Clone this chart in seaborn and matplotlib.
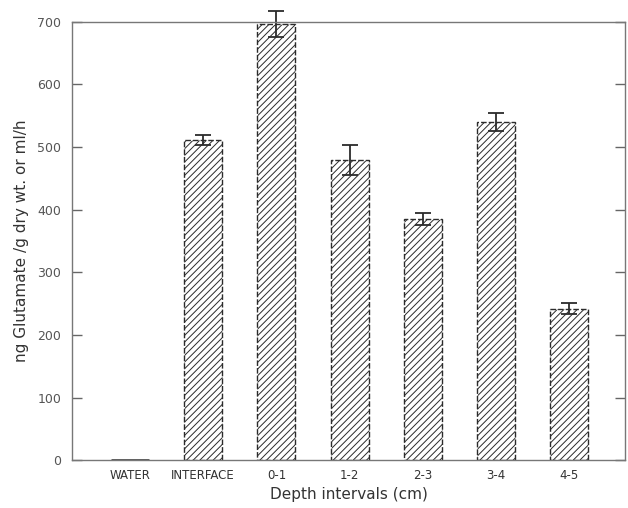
import matplotlib
matplotlib.use("Agg")
import matplotlib.pyplot as plt
import seaborn as sns
import pandas as pd

categories = ["WATER", "INTERFACE", "0-1", "1-2", "2-3", "3-4", "4-5"]
rates = [1, 512, 697, 480, 385, 540, 242]
errors = [0, 8, 21, 24, 9, 15, 9]
y_ticks = [0, 100, 200, 300, 400, 500, 600, 700]

ink = "#2b2b2b"

sns.set_style("white")
plt.rcParams["font.family"] = ["DejaVu Sans"]
plt.rcParams["hatch.color"] = "#555555"
plt.rcParams["hatch.linewidth"] = 0.7

df = pd.DataFrame({"depth": categories, "rate": rates})

fig = plt.figure(figsize=(6.28, 5.08), dpi=100)
ax = fig.add_axes([0.115, 0.094, 0.88, 0.863])

sns.barplot(data=df, x="depth", y="rate", order=categories, color="white",
            edgecolor=ink, linewidth=1.0, width=0.52, errorbar=None, ax=ax)
for p in ax.patches:
    p.set_hatch("/////")
    p.set_linestyle((0, (4, 1.5)))
# water bar is just a flat line at zero
ax.patches[0].set_linestyle("-")
ax.patches[0].set_linewidth(1.8)
ax.patches[0].set_hatch("")

# error bars at the bar centres
xs = [p.get_x() + p.get_width() / 2 for p in ax.patches]
eb = ax.errorbar(xs[1:], rates[1:], yerr=errors[1:], fmt="none", ecolor=ink,
                 elinewidth=1.3, capsize=6, capthick=1.3)
for art in eb.lines[1] + eb.lines[2]:
    art.set_clip_on(False)

ax.set_ylim(0, 700)
ax.set_xlim(-0.79, len(categories) - 0.24)
ax.set_yticks(y_ticks)
ax.set_yticklabels([str(t) for t in y_ticks], fontsize=9, color="#555555")
ax.tick_params(axis="y", direction="in", length=7, width=1, color="#666666",
               right=True, left=True, pad=8)
ax.tick_params(axis="x", length=0, labelsize=8.5, labelcolor="#333333", pad=6)

for s in ax.spines.values():
    s.set_color("#777777")
    s.set_linewidth(1.0)

ax.set_xlabel("Depth intervals (cm)", fontsize=11, color="#333333", labelpad=4)
ax.set_ylabel("ng Glutamate /g dry wt. or ml/h", fontsize=11, color="#333333",
              labelpad=6)

fig.savefig("out.png", dpi=100, facecolor="white")
